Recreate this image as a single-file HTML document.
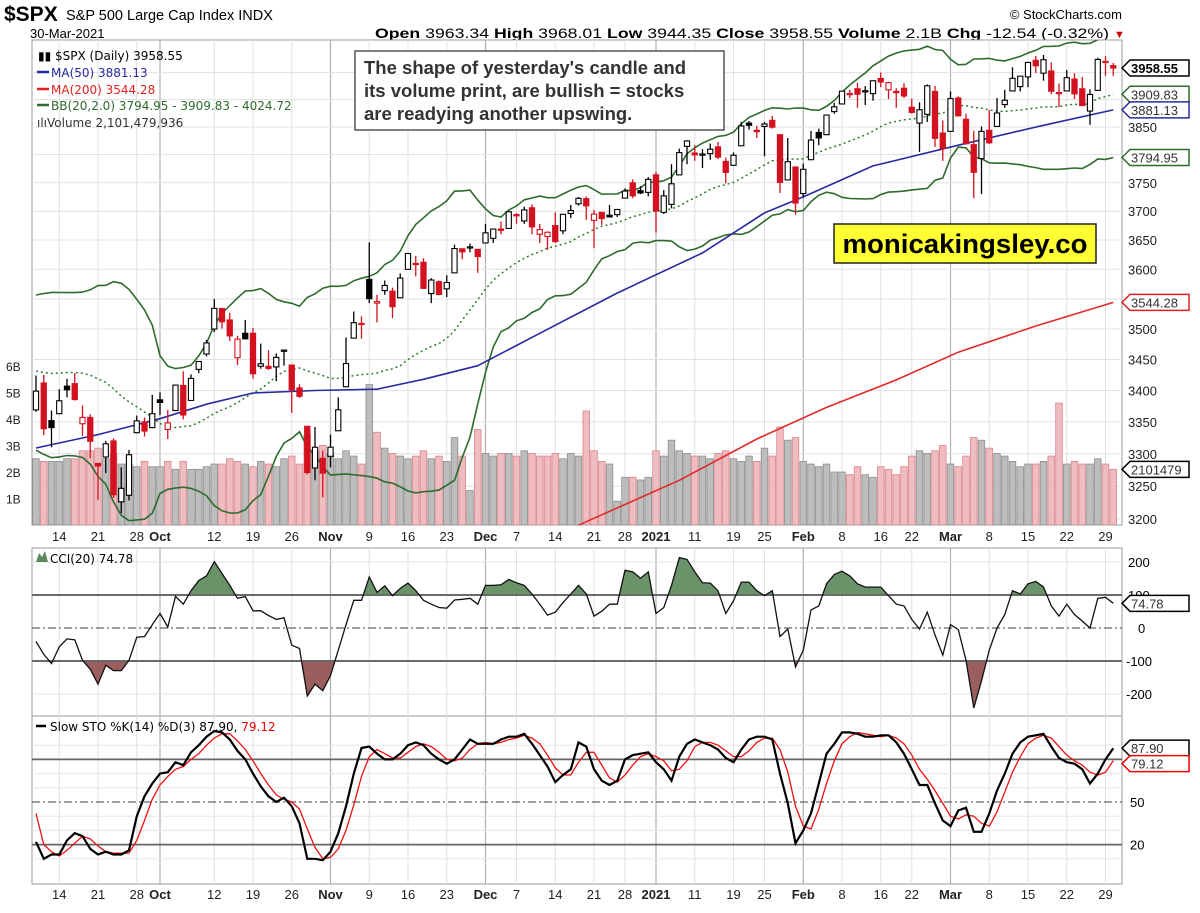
<!DOCTYPE html>
<html><head><meta charset="utf-8"><style>
html,body{margin:0;padding:0;background:#fff;}
svg text{font-family:"Liberation Sans",Arial,sans-serif;}
.lg{font-family:"DejaVu Sans","Liberation Sans",sans-serif;font-size:12px;}
</style></head><body>
<svg id="chart" width="1200" height="908" viewBox="0 0 1200 908" xmlns="http://www.w3.org/2000/svg">
<rect x="0" y="0" width="1200" height="908" fill="#fff"/>
<g>
<text x="4" y="21" font-size="21" font-weight="bold">$SPX</text>
<text x="66" y="20" font-size="14.5">S&amp;P 500 Large Cap Index INDX</text>
<text x="30" y="38" font-size="13">30-Mar-2021</text>
<text x="1122" y="19" font-size="13" text-anchor="end">© StockCharts.com</text>
<text x="375" y="38" font-size="13.5" textLength="734" lengthAdjust="spacingAndGlyphs"><tspan font-weight="bold">Open</tspan> 3963.34 <tspan font-weight="bold">High</tspan> 3968.01 <tspan font-weight="bold">Low</tspan> 3944.35 <tspan font-weight="bold">Close</tspan> 3958.55 <tspan font-weight="bold">Volume</tspan> 2.1B <tspan font-weight="bold">Chg</tspan> -12.54 (-0.32%)</text>
<text x="1114" y="38" font-size="11" fill="#c00">▼</text>
</g>
<g id="grid"></g>
<g id="vol"></g>
<g id="lines"></g>
<g id="candles"></g>
<g id="ind"></g>
<g id="labels"></g>
<g class="lg">
<text x="38" y="60" class="lg">▮▮ $SPX (Daily) 3958.55</text>
<line x1="37" y1="72" x2="49" y2="72" stroke="#2a2aa0" stroke-width="2.5"/>
<text x="51" y="77" class="lg" fill="#2a2aa0">MA(50) 3881.13</text>
<line x1="37" y1="89" x2="49" y2="89" stroke="#e02020" stroke-width="2.5"/>
<text x="51" y="94" class="lg" fill="#e02020">MA(200) 3544.28</text>
<line x1="37" y1="105" x2="49" y2="105" stroke="#2e6b2e" stroke-width="2.5"/>
<text x="51" y="110" class="lg" fill="#2e6b2e">BB(20,2.0) 3794.95 - 3909.83 - 4024.72</text>
<text x="37" y="127" class="lg" fill="#333">ılıVolume 2,101,479,936</text>
</g>
<g>
<rect x="355" y="51" width="369" height="79" fill="#fff" stroke="#555" stroke-width="1.5"/>
<text x="364" y="74" font-size="18.5" font-weight="bold" fill="#333">The shape of yesterday's candle and</text>
<text x="364" y="97" font-size="18.5" font-weight="bold" fill="#333">its volume print, are bullish = stocks</text>
<text x="364" y="120" font-size="18.5" font-weight="bold" fill="#333">are readying another upswing.</text>
</g>
<g>
<rect x="834" y="224" width="262" height="39" fill="#ffff33" stroke="#222" stroke-width="1.5"/>
<text x="965" y="253" font-size="27" font-weight="bold" text-anchor="middle" textLength="245" lengthAdjust="spacingAndGlyphs">monicakingsley.co</text>
</g>
<g>
<path d="M36,562 L39,553 L42,557 L45,551 L48,562 Z" fill="#5d8a5d"/>
<text x="50" y="563" class="lg">CCI(20) 74.78</text>
</g>
<g>
<line x1="36" y1="726" x2="46" y2="726" stroke="#000" stroke-width="2.5"/>
<text x="50" y="731" class="lg">Slow STO %K(14) %D(3) 87.90, <tspan fill="#e00">79.12</tspan></text>
</g>
</svg>
<script>
const hist=[3333.69,3380.35,3373.43,3372.85,3381.99,3389.78,3374.85,3385.51,3397.16,3431.28,3443.62,3478.73,3484.55,3508.01,3500.31,3526.65,3580.84,3455.06,3426.96,3331.84];
const opens=[3369,3412,3352,3363,3407,3411,3347,3357,3285,3295,3320,3226,3236,3333,3350,3341,
3385,3338,3368,3408,3384,3434,3459,3500,3534,3515,3453,3493,3493,3439,3439,3438,3464,3441,3404,3343,3278,3293,
3296,3336,3406,3485,3508,3583,3543,3564,3563,3552,3600,3610,3612,3559,3579,3567,3594,3635,3638,3634,
3645,3653,3669,3670,3694,3683,3706,3660,3656,3675,3666,3696,3713,3722,3684,3698,3693,3694,3723,3750,3736,3733,
3764,3698,3712,3764,3815,3803,3801,3802,3814,3788,3781,3816,3857,3844,3851,3862,3836,3755,3778,
3731,3791,3840,3836,3878,3892,3910,3920,3916,3911,3939,3918,3915,3921,3886,3857,3873,3915,3839,
3842,3903,3864,3818,3793,3844,3851,3891,3916,3924,3942,3973,3949,3953,3913,3916,3938,3920,3879,3917,3969,3963];
const highs=[3424,3425,3368,3402,3419,3428,3376,3362,3285,3320,3324,3279,3306,3360,3357,3393,
3397,3369,3409,3431,3426,3447,3482,3550,3535,3527,3489,3515,3502,3476,3465,3460,3466,3441,3410,3342,3342,3305,
3330,3389,3486,3529,3521,3646,3557,3581,3569,3593,3628,3623,3619,3585,3581,3590,3642,3635,3644,3634,
3678,3670,3682,3699,3697,3708,3712,3678,3665,3698,3695,3711,3725,3726,3702,3698,3711,3703,3740,3756,3744,3760,
3769,3737,3783,3811,3826,3817,3810,3820,3823,3795,3804,3859,3861,3852,3859,3870,3836,3830,3778,
3784,3843,3847,3872,3894,3915,3918,3931,3925,3934,3950,3933,3921,3930,3902,3895,3928,3925,3862,
3915,3906,3874,3843,3851,3881,3903,3918,3960,3944,3970,3981,3983,3969,3930,3955,3949,3942,3919,3978,3981,3968];
const lows=[3366,3329,3310,3363,3389,3384,3328,3293,3229,3270,3232,3209,3228,3332,3327,3340,
3361,3323,3367,3354,3384,3428,3455,3495,3501,3480,3441,3483,3419,3435,3433,3415,3440,3364,3388,3268,3259,3233,
3279,3336,3405,3485,3484,3543,3511,3557,3518,3552,3600,3588,3567,3543,3556,3553,3594,3617,3629,3594,
3645,3645,3660,3670,3678,3678,3660,3645,3633,3645,3660,3688,3710,3685,3636,3676,3689,3690,3723,3723,3730,3726,
3663,3695,3705,3764,3783,3789,3776,3791,3792,3749,3780,3816,3845,3830,3797,3847,3732,3755,3694,
3725,3791,3817,3836,3874,3892,3903,3885,3890,3898,3923,3901,3885,3903,3874,3805,3859,3814,3789,
3842,3869,3818,3723,3730,3819,3851,3885,3916,3915,3923,3949,3935,3910,3886,3915,3901,3889,3854,3917,3944,3944];
const closes=[3398.96,3339.19,3340.97,3383.54,3401.20,3385.49,3357.01,3319.47,3281.06,3315.57,3236.92,3246.59,3298.46,3351.60,3335.47,3363.00,
3380.80,3348.42,3408.60,3360.97,3419.44,3446.83,3477.14,3534.22,3511.93,3488.67,3483.34,3483.81,3426.92,3443.12,3435.56,3453.49,3465.39,3400.97,3390.68,3271.03,3310.11,3269.96,
3310.24,3369.16,3443.44,3510.45,3509.44,3550.50,3545.53,3572.66,3537.01,3585.15,3626.91,3609.53,3567.79,3581.87,3557.54,3577.59,3635.41,3629.65,3638.35,3621.63,
3662.45,3669.01,3666.72,3699.12,3691.96,3702.25,3672.82,3668.10,3663.46,3647.49,3694.62,3701.17,3722.48,3709.41,3694.92,3687.26,3690.01,3703.06,3735.36,3727.04,3732.04,3756.07,
3700.65,3726.86,3748.14,3803.79,3824.68,3799.61,3801.19,3809.84,3795.54,3768.25,3798.91,3851.85,3853.07,3841.47,3855.36,3849.62,3750.77,3787.38,3714.24,
3773.86,3826.31,3830.17,3871.74,3886.83,3915.59,3911.23,3909.88,3916.38,3934.83,3932.59,3931.33,3913.97,3906.71,3876.50,3881.37,3925.43,3829.34,3811.15,
3901.82,3870.29,3819.72,3768.47,3841.94,3821.35,3875.44,3898.81,3939.34,3943.34,3968.94,3962.71,3974.12,3915.46,3913.10,3940.59,3910.52,3889.14,3909.52,3974.54,3971.09,3958.55];
const volumes=[2.5,2.4,2.4,2.4,2.5,2.5,2.8,2.8,2.9,2.5,2.7,2.3,2.3,2.2,2.4,2.2,
2.2,2.4,2.1,2.4,2.1,2.1,2.2,2.3,2.3,2.5,2.4,2.3,2.2,2.4,2.3,2.2,2.5,2.6,2.3,3.4,2.8,3.0,
2.7,2.5,2.8,2.6,2.3,5.3,3.5,2.9,2.7,2.6,2.5,2.6,2.8,2.5,2.6,2.4,3.3,2.6,1.3,3.6,
2.7,2.6,2.7,2.7,2.6,2.8,2.7,2.6,2.6,2.7,2.5,2.7,2.6,4.3,2.8,2.4,2.3,0.9,1.8,1.8,1.7,1.8,
2.8,2.6,3.2,2.8,2.7,2.6,2.6,2.5,2.7,2.8,2.5,2.4,2.6,2.4,2.9,2.6,3.7,3.2,3.3,
2.4,2.3,2.2,2.3,2.0,2.0,1.9,2.2,1.9,1.8,2.2,2.1,1.9,2.2,2.6,2.8,2.7,2.8,3.0,
2.3,2.2,2.6,3.3,3.2,2.9,2.7,2.6,2.4,2.2,2.3,2.3,2.4,2.6,4.6,2.3,2.4,2.3,2.3,2.5,2.3,2.1];
const ma50Days=[0,8,16,22,28,36,44,50,57,65,75,86,94,99,108,119,130,139];
const ma50Vals=[3309,3330,3355,3378,3396,3400,3402,3418,3440,3493,3560,3628,3697,3725,3780,3817,3853,3881.13];
const ma200Days=[68,71,83,93,102,111,119,129,139];
const ma200Vals=[3180,3196,3259,3323,3373,3417,3462,3505,3544.28];
const cciVals=[-41,-80,-108,-57,-33,-36,-98,-125,-170,-113,-129,-129,-98,-28,-26,10,44,3,96,72,113,144,158,201,165,129,90,95,52,52,38,26,31,-52,-62,-206,-170,-190,-144,-67,10,84,84,155,108,128,98,120,136,113,84,72,62,60,85,87,90,72,129,129,131,147,137,129,103,72,39,48,77,103,129,103,
36,51,72,72,175,170,151,170,44,62,129,213,208,170,137,136,113,44,82,139,139,113,98,113,-26,-3,-118,-67,55,67,134,162,172,158,134,124,124,124,98,72,67,26,-3,48,-21,-82,10,-5,-98,-242,-160,-67,0,41,113,103,134,141,124,67,36,72,41,21,0,90,93,74.78];
const stoK=[22,10,13,13,23,28,26,17,13,15,13,13,16,40,54,63,70,71,78,76,85,90,96,100,99,94,86,80,70,61,54,50,53,47,35,10,10,9,15,28,47,70,88,89,84,80,80,84,90,92,90,84,80,77,80,87,94,91,91,91,94,96,96,98,91,83,75,64,69,73,92,89,73,65,62,65,80,83,84,85,78,73,65,82,91,94,92,90,87,81,78,87,94,96,96,94,70,49,21,30,42,63,84,91,99,99,98,96,96,97,97,92,84,73,62,62,49,37,33,44,46,29,29,42,58,70,84,92,96,97,98,89,81,78,77,73,63,70,80,87.9];
const stoD=[42,20,15,12,16,21,26,24,19,15,14,14,14,23,37,52,62,68,73,75,80,84,90,95,98,98,93,87,79,70,62,55,52,50,45,31,18,10,11,17,30,48,68,82,87,84,81,81,85,89,91,89,85,80,79,81,87,91,92,91,92,94,95,97,95,91,83,74,69,69,78,85,85,76,67,64,69,76,82,84,82,79,72,73,79,89,92,92,90,86,82,82,86,92,95,95,87,71,47,33,31,45,63,79,91,96,99,98,97,96,97,95,91,83,73,66,58,49,40,38,41,40,35,33,43,57,71,82,91,95,97,95,89,83,79,76,71,69,71,79.12];
const tickDays=[3,8,13,16,23,28,33,38,43,48,53,58,62,67,72,76,80,85,90,94,99,104,109,113,118,123,128,133,138];
const tickLabels=["14","21","28","Oct","12","19","26","Nov","9","16","23","Dec","7","14","21","28","2021","11","19","25","Feb","8","16","22","Mar","8","15","22","29"];
const monthTicks=["Oct","Nov","Dec","2021","Feb","Mar"];
const priceTicks=[3200,3250,3300,3350,3400,3450,3500,3600,3650,3700,3750,3850];
const priceGrid=[3200,3250,3300,3350,3400,3450,3500,3550,3600,3650,3700,3750,3800,3850,3900,3950];
const volTicks=[1,2,3,4,5,6];

const NS="http://www.w3.org/2000/svg";
const L=32,R=1122,MT=40,MB=525,CT=548,CB=716,ST=716,SB=884;
const xAt=i=>36+7.75*i;
const py=p=>519-2120*Math.log(p/3200);
const vy=v=>525-26.5*v;
const cy=v=>628-0.33*v;
const sy=v=>873-1.42*v;
function mk(tag,attrs,parent){const e=document.createElementNS(NS,tag);for(const k in attrs)e.setAttribute(k,attrs[k]);parent.appendChild(e);return e;}
const svg=document.getElementById('chart');
const defs=mk('defs',{},svg);
const cp=mk('clipPath',{id:'mainClip'},defs);mk('rect',{x:L,y:MT,width:R-L,height:MB-MT},cp);
const cp2=mk('clipPath',{id:'cciClip'},defs);mk('rect',{x:L,y:CT,width:R-L,height:CB-CT},cp2);
const cpUp=mk('clipPath',{id:'cciUp'},defs);mk('rect',{x:L,y:CT,width:R-L,height:cy(100)-CT},cpUp);
const cpDn=mk('clipPath',{id:'cciDn'},defs);mk('rect',{x:L,y:cy(-100),width:R-L,height:CB-cy(-100)},cpDn);
const cp3=mk('clipPath',{id:'stoClip'},defs);mk('rect',{x:L,y:ST,width:R-L,height:SB-ST},cp3);

const grid=document.getElementById('grid');
[[MT,MB],[CT,CB],[ST,SB]].forEach(([t,b])=>{const r=mk('rect',{x:L,y:t,width:R-L,height:b-t,fill:'#fff',stroke:'#999','stroke-width':1},grid);});
tickDays.forEach((d,k)=>{const isM=monthTicks.includes(tickLabels[k]);[[MT,MB],[CT,CB],[ST,SB]].forEach(([t,b])=>{mk('line',{x1:xAt(d),x2:xAt(d),y1:t,y2:b,stroke:isM?'#b0b0b0':'#e0e0e0','stroke-width':isM?1.2:1},grid);});});
priceGrid.forEach(p=>mk('line',{x1:L,x2:R,y1:py(p),y2:py(p),stroke:'#e0e0e0'},grid));
[-200,200].forEach(v=>mk('line',{x1:L,x2:R,y1:cy(v),y2:cy(v),stroke:'#e0e0e0'},grid));
[10,30,40,60,70,90].forEach(v=>mk('line',{x1:L,x2:R,y1:sy(v),y2:sy(v),stroke:'#e6e6e6'},grid));
[100,-100].forEach(v=>mk('line',{x1:L,x2:R,y1:cy(v),y2:cy(v),stroke:'#666','stroke-width':1.8},grid));
mk('line',{x1:L,x2:R,y1:cy(0),y2:cy(0),stroke:'#666','stroke-width':1.2,'stroke-dasharray':'8,3,2,3'},grid);
[80,20].forEach(v=>mk('line',{x1:L,x2:R,y1:sy(v),y2:sy(v),stroke:'#666','stroke-width':1.8},grid));
mk('line',{x1:L,x2:R,y1:sy(50),y2:sy(50),stroke:'#666','stroke-width':1.2,'stroke-dasharray':'8,3,2,3'},grid);

const vol=document.getElementById('vol');
volumes.forEach((v,i)=>{const prev=i?closes[i-1]:hist[hist.length-1];const dn=closes[i]<prev;
const r=mk('rect',{x:xAt(i)-3.3,y:vy(v),width:6.6,height:MB-vy(v),fill:dn?'#efbcc0':'#bdbdbd',stroke:dn?'#d9848c':'#8e8e8e','stroke-width':0.8,'clip-path':'url(#mainClip)'},vol);

});

const lines=document.getElementById('lines');
function poly(pts,attrs,name,parent){const d=pts.map((p,k)=>(k?'L':'M')+p[0].toFixed(1)+','+p[1].toFixed(1)).join(' ');const e=mk('path',Object.assign({d:d,fill:'none'},attrs),parent||lines);return e;}
const all=hist.concat(closes);
const bbU=[],bbM=[],bbL=[];
closes.forEach((c,i)=>{const w=all.slice(i+1,i+21);const m=w.reduce((a,b)=>a+b,0)/20;const s=Math.sqrt(w.reduce((a,b)=>a+(b-m)*(b-m),0)/20);bbU.push([xAt(i),py(m+2*s)]);bbM.push([xAt(i),py(m)]);bbL.push([xAt(i),py(m-2*s)]);});
poly(bbU,{stroke:'#2e6b2e','stroke-width':1.6,'clip-path':'url(#mainClip)'},'bb-upper');
poly(bbL,{stroke:'#2e6b2e','stroke-width':1.6,'clip-path':'url(#mainClip)'},'bb-lower');
poly(bbM,{stroke:'#2e7d2e','stroke-width':1.5,'stroke-dasharray':'2,3','clip-path':'url(#mainClip)'},'bb-middle');
poly(ma50Days.map((d,k)=>[xAt(d),py(ma50Vals[k])]),{stroke:'#2a2aa0','stroke-width':1.6,'stroke-linejoin':'round','clip-path':'url(#mainClip)'},'ma50-line');
poly(ma200Days.map((d,k)=>[xAt(d),py(ma200Vals[k])]),{stroke:'#e02a2a','stroke-width':1.6,'clip-path':'url(#mainClip)'},'ma200-line');

const cg=document.getElementById('candles');
closes.forEach((c,i)=>{const prev=i?closes[i-1]:hist[hist.length-1];const col=c<prev?'#d4111e':'#000';const o=opens[i];const x=xAt(i);
const g=mk('g',{'clip-path':'url(#mainClip)'},cg);


mk('line',{x1:x,x2:x,y1:py(highs[i]),y2:py(lows[i]),stroke:col,'stroke-width':1.3},g);
const top=py(Math.max(o,c)),bot=py(Math.min(o,c));const h=Math.max(bot-top,1.2);
mk('rect',{x:x-2.6,y:top,width:5.2,height:h,fill:c<o?col:'#fff',stroke:col,'stroke-width':1.1},g);});

const ind=document.getElementById('ind');
const cciPts=cciVals.map((v,i)=>[xAt(i),cy(v)]);
const areaUp='M'+xAt(0)+','+cy(100)+' '+cciPts.map(p=>'L'+p[0].toFixed(1)+','+p[1].toFixed(1)).join(' ')+' L'+xAt(139)+','+cy(100)+' Z';
const au=mk('path',{d:areaUp,fill:'#6a936a','clip-path':'url(#cciUp)'},ind);
const areaDn='M'+xAt(0)+','+cy(-100)+' '+cciPts.map(p=>'L'+p[0].toFixed(1)+','+p[1].toFixed(1)).join(' ')+' L'+xAt(139)+','+cy(-100)+' Z';
const ad=mk('path',{d:areaDn,fill:'#9a5e5e','clip-path':'url(#cciDn)'},ind);
mk('line',{x1:L,x2:R,y1:cy(100),y2:cy(100),stroke:'#666','stroke-width':1.8},ind);
mk('line',{x1:L,x2:R,y1:cy(-100),y2:cy(-100),stroke:'#666','stroke-width':1.8},ind);
poly(cciPts,{stroke:'#111','stroke-width':1.3,'clip-path':'url(#cciClip)'},'cci-line',ind);
poly(stoD.map((v,i)=>[xAt(i),sy(v)]),{stroke:'#ee1111','stroke-width':1.3,'clip-path':'url(#stoClip)'},'sto-d-line',ind);
poly(stoK.map((v,i)=>[xAt(i),sy(v)]),{stroke:'#000','stroke-width':2.2,'clip-path':'url(#stoClip)'},'sto-k-line',ind);

const lab=document.getElementById('labels');
function txt(x,y,s,attrs,name){const t=mk('text',Object.assign({x:x,y:y,'font-size':13},attrs||{}),lab);t.textContent=s;return t;}
tickDays.forEach((d,k)=>{const isM=monthTicks.includes(tickLabels[k]);const a={'text-anchor':'middle','font-weight':isM?'bold':'normal','fill':'#222'};
txt(xAt(d),541,tickLabels[k],a,'x-tick-label');txt(xAt(d),899,tickLabels[k],a,'x-tick-label-bottom');});
priceTicks.forEach(p=>txt(1128,py(p)+5,String(p),{fill:'#222'},'price-tick-label'));
volTicks.forEach(v=>txt(6,vy(v)+5,v+'B',{fill:'#222','font-size':12},'volume-tick-label'));
txt(1128,cy(200)+5,'200',{},'cci-tick-label');
txt(1128,cy(100)+5,'100',{},'cci-tick-label');
txt(1138,cy(0)+5,'0',{},'cci-tick-label');
txt(1126,cy(-100)+5,'-100',{},'cci-tick-label');
txt(1126,cy(-200)+5,'-200',{},'cci-tick-label');
txt(1130,sy(50)+5,'50',{},'sto-tick-label');
txt(1130,sy(20)+5,'20',{},'sto-tick-label');
function tag(y,s,color,bold,name){const g=mk('g',{},lab);
mk('path',{d:`M1122,${y} L1130,${y-8} L1189,${y-8} L1189,${y+8} L1130,${y+8} Z`,fill:'#fff',stroke:color,'stroke-width':1.5},g);
const t=mk('text',{x:1131,y:y+5,'font-size':13,'font-weight':bold?'bold':'normal',fill:bold?'#000':'#333'},g);t.textContent=s;}
tag(py(3958.55),'3958.55','#000',true,'last-price-tag');
tag(py(3909.83),'3909.83','#2e6b2e',false,'bb-middle-tag');
tag(py(3881.13),'3881.13','#2a2aa0',false,'ma50-tag');
tag(py(3794.95),'3794.95','#2e6b2e',false,'bb-lower-tag');
tag(py(3544.28),'3544.28','#e02020',false,'ma200-tag');
tag(vy(2.101),'2101479','#000',false,'volume-tag');
tag(cy(74.78),'74.78','#000',false,'cci-value-tag');
tag(sy(87.9),'87.90','#000',false,'sto-k-tag');
tag(sy(79.12)+3,'79.12','#e00',false,'sto-d-tag');
</script>
</body></html>
